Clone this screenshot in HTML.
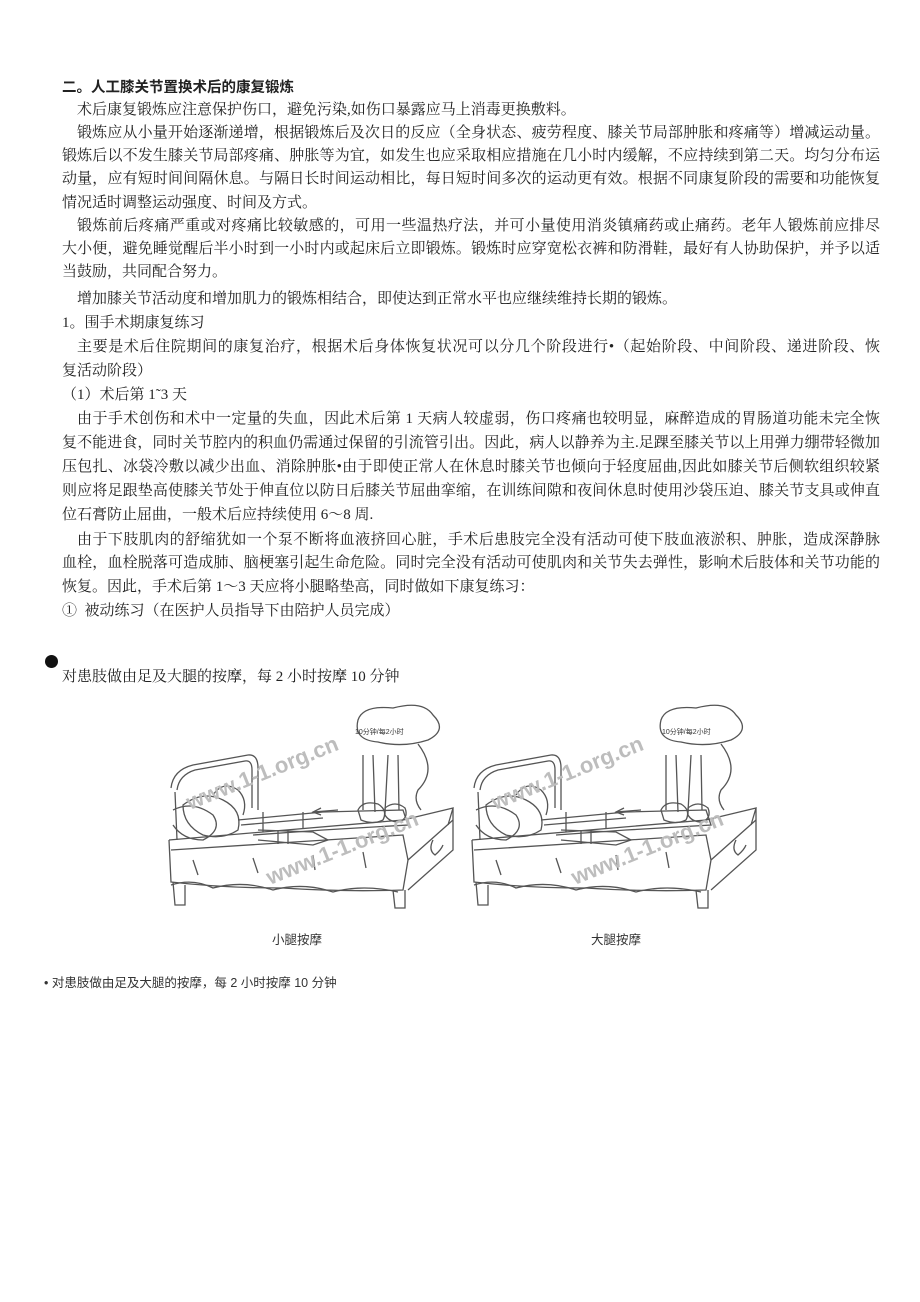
<!DOCTYPE html>
<html><head><meta charset="utf-8">
<style>
html,body{margin:0;padding:0;background:#fff;}
body{width:920px;height:1302px;position:relative;overflow:hidden;font-family:"Liberation Serif","Noto Serif CJK SC",serif;color:#222;}
.l{position:absolute;left:62px;width:818px;font-size:15px;line-height:18px;white-space:nowrap;}
.j{text-align:justify;text-align-last:justify;}
.i{left:77px;width:803px;}
.t{font-family:"Liberation Sans","Noto Sans CJK SC",sans-serif;font-weight:bold;font-size:14.5px;}
.s{font-family:"Liberation Sans","Noto Sans CJK SC",sans-serif;font-size:12.5px;color:#333;position:absolute;white-space:nowrap;}
</style></head><body>
<div class="l t" style="top:79px">二。人工膝关节置换术后的康复锻炼</div>
<div class="l i" style="top:101px">术后康复锻炼应注意保护伤口，避免污染,如伤口暴露应马上消毒更换敷料。</div>
<div class="l i j" style="top:124px">锻炼应从小量开始逐渐递增，根据锻炼后及次日的反应（全身状态、疲劳程度、膝关节局部肿胀和疼痛等）增减运动量。</div>
<div class="l j" style="top:147px">锻炼后以不发生膝关节局部疼痛、肿胀等为宜，如发生也应采取相应措施在几小时内缓解，不应持续到第二天。均匀分布运</div>
<div class="l j" style="top:170px">动量，应有短时间间隔休息。与隔日长时间运动相比，每日短时间多次的运动更有效。根据不同康复阶段的需要和功能恢复</div>
<div class="l" style="top:194px">情况适时调整运动强度、时间及方式。</div>
<div class="l i j" style="top:217px">锻炼前后疼痛严重或对疼痛比较敏感的，可用一些温热疗法，并可小量使用消炎镇痛药或止痛药。老年人锻炼前应排尽</div>
<div class="l j" style="top:240px">大小便，避免睡觉醒后半小时到一小时内或起床后立即锻炼。锻炼时应穿宽松衣裤和防滑鞋，最好有人协助保护，并予以适</div>
<div class="l" style="top:263px">当鼓励，共同配合努力。</div>
<div class="l i" style="top:290px">增加膝关节活动度和增加肌力的锻炼相结合，即使达到正常水平也应继续维持长期的锻炼。</div>
<div class="l" style="top:314px">1。围手术期康复练习</div>
<div class="l i j" style="top:338px">主要是术后住院期间的康复治疗，根据术后身体恢复状况可以分几个阶段进行•（起始阶段、中间阶段、递进阶段、恢</div>
<div class="l" style="top:362px">复活动阶段）</div>
<div class="l" style="top:386px">（1）术后第 1˜3 天</div>
<div class="l i j" style="top:410px">由于手术创伤和术中一定量的失血，因此术后第 1 天病人较虚弱，伤口疼痛也较明显，麻醉造成的胃肠道功能未完全恢</div>
<div class="l j" style="top:434px">复不能进食，同时关节腔内的积血仍需通过保留的引流管引出。因此，病人以静养为主.足踝至膝关节以上用弹力绷带轻微加</div>
<div class="l j" style="top:458px">压包扎、冰袋冷敷以减少出血、消除肿胀•由于即使正常人在休息时膝关节也倾向于轻度屈曲,因此如膝关节后侧软组织较紧</div>
<div class="l j" style="top:482px">则应将足跟垫高使膝关节处于伸直位以防日后膝关节屈曲挛缩，在训练间隙和夜间休息时使用沙袋压迫、膝关节支具或伸直</div>
<div class="l" style="top:506px">位石膏防止屈曲，一般术后应持续使用 6～8 周.</div>
<div class="l i j" style="top:531px">由于下肢肌肉的舒缩犹如一个泵不断将血液挤回心脏，手术后患肢完全没有活动可使下肢血液淤积、肿胀，造成深静脉</div>
<div class="l j" style="top:554px">血栓，血栓脱落可造成肺、脑梗塞引起生命危险。同时完全没有活动可使肌肉和关节失去弹性，影响术后肢体和关节功能的</div>
<div class="l" style="top:578px">恢复。因此，手术后第 1～3 天应将小腿略垫高，同时做如下康复练习：</div>
<div class="l" style="top:602px">①&nbsp;&nbsp;被动练习（在医护人员指导下由陪护人员完成）</div>
<div style="position:absolute;left:45px;top:655px;width:13px;height:13px;border-radius:50%;background:#111"></div>
<div class="l" style="top:668px;left:62px">对患肢做由足及大腿的按摩，每 2 小时按摩 10 分钟</div>

<svg width="920" height="240" style="position:absolute;left:0;top:690px" fill="none" stroke="#555" stroke-width="1.3">
<defs>
<g id="bed">
<path d="M8 88 Q10 70 30 65 L85 55 Q95 54 95 68 L95 110"/>
<path d="M14 90 Q16 75 32 70 L82 61 Q89 60 89 70 L89 108"/>
<path d="M12 92 L14 140"/>
<path d="M6 140 L240 120 L290 108 L285 125"/>
<path d="M6 140 L8 182 Q60 188 120 188 Q180 192 240 190 L245 160 L290 120"/>
<path d="M8 150 L240 135 L245 160"/>
<path d="M10 182 L12 205 L22 205 L22 185 M230 190 L232 208 L242 208 L242 190"/>
<path d="M245 190 L290 150 L290 108"/>
<path d="M8 185 Q30 178 50 188 Q80 180 110 190 Q140 182 170 192 Q200 184 235 192"/>
<path d="M20 105 Q40 90 60 100 Q80 110 75 130 Q60 140 40 135 Q20 125 20 105Z"/>
<path d="M10 110 Q30 100 50 115 Q60 130 40 140 Q20 140 10 125"/>
<path d="M50 95 Q60 80 75 90 Q85 100 80 115"/>
<path d="M75 120 L160 112 L240 110 L245 125 L160 130 L90 135"/>
<path d="M78 125 L160 118 M100 112 L100 132 M140 112 L140 128"/>
<path d="M95 130 L150 132 L165 140 L150 145 L95 140"/>
<path d="M115 130 L115 144 M125 130 L125 144"/>
<path d="M195 110 Q200 100 215 104 Q225 110 220 120 Q210 125 198 120Z"/>
<path d="M222 108 Q232 100 242 108 Q246 118 236 122 Q226 122 222 115Z"/>
<path d="M200 55 L200 110 M210 55 L212 112 M225 55 L222 112 M235 55 L236 110"/>
<path d="M175 110 L150 112 M158 108 L150 112 L158 115"/>
<path d="M195 20 Q200 5 230 8 Q260 0 270 15 Q285 30 265 40 Q240 48 215 42 Q190 40 195 20Z"/>
<path d="M255 44 Q275 70 255 90 Q250 100 258 110"/>
<path d="M30 160 L35 175 M90 158 L95 173 M150 155 L152 170 M200 152 L203 168"/>
<path d="M270 140 Q265 150 272 155 Q278 150 280 145"/>
</g>
</defs>
<use href="#bed" transform="translate(163,10)"/>
<use href="#bed" transform="translate(466,10)"/>
<g font-family="Liberation Sans, sans-serif" font-size="22" fill="#bdbdbd" stroke="none" font-weight="bold">
<text transform="translate(190,120) rotate(-22)">www.1-1.org.cn</text>
<text transform="translate(270,195) rotate(-22)">www.1-1.org.cn</text>
<text transform="translate(495,120) rotate(-22)">www.1-1.org.cn</text>
<text transform="translate(575,195) rotate(-22)">www.1-1.org.cn</text>
</g>
<g font-family="Liberation Sans, Noto Sans CJK SC, sans-serif" font-size="7" fill="#333" stroke="none">
<text x="355" y="44">10分钟/每2小时</text>
<text x="662" y="44">10分钟/每2小时</text>
</g>
</svg>

<div class="s" style="left:272px;top:929px">小腿按摩</div>
<div class="s" style="left:591px;top:929px">大腿按摩</div>
<div class="s" style="left:44px;top:972px">• 对患肢做由足及大腿的按摩，每 2 小时按摩 10 分钟</div>
</body></html>
